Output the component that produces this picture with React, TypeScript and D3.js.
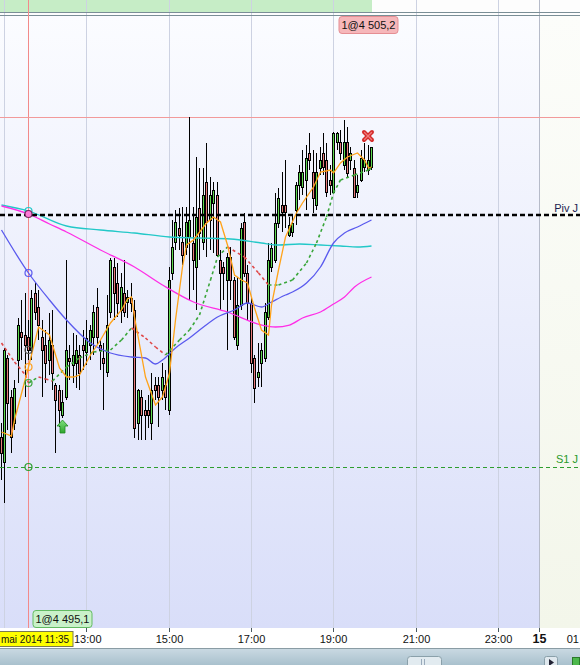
import React from "react";
import * as d3 from "d3";

const W = 580;
const H = 665;

// ---- candle data (5-minute bars starting 10:55) ----
const firstCandle = "10:55";
const stepMinutes = 5;

const opens = [4486.3, 4483.8, 4494.2, 4490.3, 4487.7, 4494.0, 4496.8, 4496.5, 4496.3, 4495.0,
  4500.7, 4499.3, 4496.3, 4495.5, 4494.0, 4495.5, 4491.5, 4491.0, 4488.5, 4490.3,
  4494.2, 4493.5, 4493.7, 4494.5, 4495.5, 4494.8, 4495.5, 4496.3, 4499.3, 4495.5,
  4494.2, 4492.8, 4498.8, 4503.3, 4501.7, 4499.0, 4500.7, 4499.8, 4500.2, 4499.0,
  4487.7, 4490.3, 4489.0, 4489.0, 4487.7, 4491.5, 4491.5, 4491.0, 4491.5, 4489.0,
  4502.7, 4505.8, 4507.2, 4505.8, 4505.3, 4506.3, 4505.7, 4503.3, 4509.2, 4505.8,
  4511.8, 4508.0, 4509.7, 4510.5, 4504.0, 4503.3, 4502.0, 4504.3, 4502.0, 4495.5,
  4499.5, 4507.8, 4502.7, 4499.7, 4494.2, 4492.3, 4493.7, 4494.2, 4498.3, 4503.3,
  4504.0, 4507.7, 4509.5, 4509.5, 4506.5, 4506.8, 4509.0, 4511.5, 4511.3, 4512.0,
  4514.7, 4512.8, 4509.5, 4513.2, 4514.7, 4514.0, 4512.0, 4510.8, 4515.8, 4515.8,
  4513.5, 4515.8, 4514.0, 4513.2, 4510.8, 4512.0, 4513.3, 4513.0, 4513.3];
const highs = [4487.7, 4495.2, 4494.5, 4491.0, 4492.0, 4498.2, 4500.0, 4500.7, 4498.0, 4501.0,
  4501.7, 4501.0, 4498.0, 4497.0, 4498.7, 4499.0, 4491.7, 4491.5, 4491.0, 4504.0,
  4495.5, 4496.7, 4496.5, 4495.5, 4497.0, 4498.0, 4497.5, 4499.5, 4501.2, 4496.0,
  4495.7, 4500.5, 4504.2, 4504.2, 4503.7, 4502.7, 4504.0, 4501.0, 4501.7, 4500.0,
  4491.1, 4491.0, 4490.0, 4490.5, 4492.7, 4492.3, 4492.3, 4493.7, 4493.0, 4503.3,
  4508.0, 4509.0, 4509.2, 4509.3, 4509.3, 4518.3, 4509.3, 4514.3, 4513.2, 4513.2,
  4515.7, 4512.3, 4511.8, 4511.8, 4505.0, 4503.8, 4504.7, 4505.3, 4502.3, 4502.3,
  4507.7, 4508.7, 4503.5, 4500.3, 4494.5, 4495.7, 4495.7, 4499.7, 4505.7, 4505.7,
  4510.7, 4511.2, 4512.8, 4514.0, 4508.3, 4508.5, 4511.8, 4513.5, 4515.0, 4515.5,
  4516.7, 4515.0, 4514.7, 4515.3, 4516.7, 4515.7, 4513.5, 4516.8, 4516.8, 4517.0,
  4518.0, 4517.3, 4515.3, 4514.0, 4512.5, 4515.0, 4515.7, 4515.5, 4515.3];
const lows = [4482.0, 4479.7, 4487.0, 4484.7, 4487.0, 4491.7, 4494.0, 4490.3, 4494.0, 4494.0,
  4498.0, 4496.0, 4490.3, 4491.7, 4492.5, 4491.0, 4484.7, 4487.3, 4488.2, 4490.0,
  4492.0, 4491.7, 4491.2, 4491.0, 4493.0, 4493.5, 4494.0, 4494.5, 4495.5, 4493.0,
  4489.0, 4492.3, 4498.2, 4498.0, 4498.3, 4497.7, 4498.3, 4498.2, 4498.8, 4486.2,
  4486.0, 4486.0, 4486.0, 4487.2, 4486.0, 4490.0, 4487.3, 4490.0, 4489.0, 4488.5,
  4502.0, 4505.0, 4505.0, 4503.5, 4504.5, 4500.0, 4501.0, 4499.0, 4504.0, 4505.0,
  4504.3, 4505.0, 4504.7, 4504.3, 4499.0, 4500.0, 4495.0, 4500.0, 4496.0, 4495.0,
  4499.0, 4502.3, 4498.0, 4492.7, 4489.7, 4491.3, 4491.3, 4493.8, 4498.0, 4502.8,
  4503.7, 4507.2, 4506.8, 4507.2, 4506.3, 4506.3, 4507.5, 4510.0, 4510.5, 4509.0,
  4513.0, 4508.7, 4509.0, 4512.5, 4512.5, 4510.3, 4510.5, 4510.7, 4515.0, 4514.0,
  4513.0, 4512.2, 4513.0, 4510.2, 4510.2, 4511.8, 4512.8, 4512.5, 4513.0];
const closes = [4484.7, 4495.0, 4489.7, 4486.3, 4491.2, 4497.5, 4496.3, 4495.5, 4495.0, 4500.2,
  4498.8, 4497.5, 4495.0, 4493.7, 4496.0, 4492.7, 4490.0, 4489.0, 4489.8, 4495.0,
  4493.9, 4494.5, 4495.0, 4492.7, 4495.0, 4496.2, 4497.0, 4498.8, 4496.3, 4495.0,
  4493.7, 4497.5, 4504.0, 4500.7, 4499.7, 4501.3, 4498.8, 4500.3, 4499.7, 4487.2,
  4491.0, 4488.5, 4488.5, 4488.5, 4491.0, 4491.0, 4490.3, 4492.3, 4490.3, 4502.0,
  4505.3, 4507.8, 4506.5, 4504.5, 4507.8, 4508.0, 4504.0, 4508.3, 4506.7, 4510.5,
  4507.8, 4510.5, 4511.0, 4504.5, 4502.7, 4502.7, 4504.3, 4502.0, 4496.3, 4499.5,
  4507.2, 4502.7, 4499.7, 4493.7, 4491.2, 4492.8, 4495.0, 4498.8, 4504.0, 4505.2,
  4507.7, 4510.2, 4508.8, 4508.8, 4507.5, 4507.7, 4511.5, 4512.8, 4512.8, 4514.2,
  4514.0, 4510.2, 4512.8, 4514.0, 4513.3, 4510.8, 4511.5, 4516.7, 4516.7, 4514.7,
  4515.8, 4512.7, 4514.7, 4510.3, 4511.5, 4514.2, 4514.0, 4514.0, 4515.3];

// ---- indicator lines (candle index, price) ----
const cyanIdx = [0, 8, 19, 29, 39, 49, 58, 67, 76, 81, 87, 93, 99, 104, 108];
const cyanVal = [4509.5, 4508.9, 4507.4, 4507.0, 4506.7, 4506.3, 4506.2, 4506.1, 4505.7, 4505.5, 4505.6, 4505.5, 4505.4, 4505.3, 4505.4];

const magentaIdx = [0, 8, 14, 19, 29, 39, 47, 56, 66, 76, 80, 84, 88, 93, 97, 100, 103, 108];
const magentaVal = [4509.4, 4508.6, 4507.6, 4506.8, 4505.0, 4503.3, 4501.5, 4499.8, 4498.8, 4497.5, 4497.3, 4497.5, 4498.2, 4498.8, 4499.6, 4500.3, 4501.3, 4502.3];

const blueIdx = [0, 8, 14, 19, 26, 32, 38, 42, 45, 47, 51, 55, 59, 63, 68, 72, 76, 79, 83, 85, 89, 93, 97, 100, 104, 108];
const blueVal = [4507.0, 4502.7, 4500.0, 4498.0, 4495.7, 4494.7, 4494.3, 4494.2, 4493.6, 4494.0, 4495.2, 4496.2, 4497.3, 4498.3, 4499.0, 4499.7, 4499.3, 4499.8, 4500.5, 4500.8, 4501.7, 4503.3, 4505.7, 4506.7, 4507.3, 4508.0];

const orangeIdx = [0, 3, 4, 8, 11, 14, 17, 19, 21, 23, 26, 29, 32, 35, 37, 38, 39, 42, 45, 47,
  49, 51, 53, 54, 56, 60, 62, 64, 66, 68, 70, 72, 74, 76, 78, 79, 81, 83, 86, 88,
  91, 93, 96, 97, 99, 101, 104, 106, 107, 108];
const orangeVal = [4486.8, 4486.4, 4488.0, 4493.3, 4497.3, 4496.5, 4493.2, 4492.3, 4492.3, 4492.5,
  4494.5, 4496.0, 4497.7, 4499.0, 4500.1, 4500.3, 4498.3, 4492.3, 4489.5, 4490.3,
  4492.7, 4498.0, 4503.3, 4505.5, 4506.0, 4507.7, 4508.3, 4507.8, 4505.5, 4502.5,
  4502.0, 4501.7, 4499.2, 4497.0, 4496.5, 4499.5, 4503.0, 4506.3, 4508.7, 4509.7,
  4511.3, 4512.8, 4513.0, 4512.7, 4513.7, 4514.3, 4514.7, 4514.0, 4513.2, 4513.3];

const trendIdx = [0, 4, 7, 8, 11, 13, 15, 19, 23, 27, 32, 35, 38, 42, 45, 48, 52, 55, 58, 61,
  63, 66, 71, 75, 78, 81, 85, 89, 92, 95, 97, 99, 103, 107, 108];
const trendVal = [4495.7, 4493.8, 4492.5, 4491.7, 4492.3, 4492.1, 4491.9, 4493.3, 4494.2, 4494.8,
  4495.0, 4496.0, 4497.2, 4496.2, 4495.3, 4494.5, 4496.0, 4497.0, 4498.5, 4502.0,
  4504.3, 4505.3, 4504.3, 4502.7, 4501.5, 4501.5, 4502.0, 4503.7, 4505.7, 4508.3,
  4510.7, 4512.0, 4512.5, 4513.0, 4513.2];

// ---- levels, trades, labels ----
const pivotLevel = 4508.5;
const pivotLabel = "Piv J";
const s1Level = 4483.3;
const s1Label = "S1 J";
const dayHigh = 4518.3;

const cursorTime = "11:35";
const dateLabel = "mai 2014 11:35";
const buyIdx = 18;
const buyLabel = "1@4 495,1";
const sellIdx = 107;
const sellLabel = "1@4 505,2";

const gridHours = [11, 13, 15, 17, 19, 21, 23];
const dayBreakHour = 24;
const tickHours = [13, 15, 17, 19, 21, 23, 24, 25];
const tickLabels = ["13:00", "15:00", "17:00", "19:00", "21:00", "23:00", "15", "01"];

const FONT = "Liberation Sans, Arial, sans-serif";

const toMin = (s: string) => {
  const [h, m] = s.split(":").map(Number);
  return h * 60 + m;
};

export default function App() {
  const plotTop = 16;
  const plotBottom = 628;
  const x = d3.scaleLinear().domain([13 * 60, 24 * 60]).range([86.3, 539]);
  const y = d3.scaleLinear().domain([4530, 4460]).range([0, 700]);
  const t0 = toMin(firstCandle);
  const xi = (i: number) => Math.round(x(t0 + i * stepMinutes)) + 0.5;
  const crisp = (v: number) => Math.round(v) + 0.5;

  const lineGen = (curve: any) =>
    d3.line<[number, number]>().x((d) => xi(d[0])).y((d) => y(d[1])).curve(curve);
  const zipS = (a: number[], b: number[]) => a.map((v, k) => [v, b[k]] as [number, number]);

  const cyanPath = lineGen(d3.curveMonotoneX)(zipS(cyanIdx, cyanVal)) || "";
  const magPath = lineGen(d3.curveMonotoneX)(zipS(magentaIdx, magentaVal)) || "";
  const bluePath = lineGen(d3.curveMonotoneX)(zipS(blueIdx, blueVal)) || "";
  const orangePath = lineGen(d3.curveLinear)(zipS(orangeIdx, orangeVal)) || "";

  const trendPts = zipS(trendIdx, trendVal);
  const trendSegs = trendPts.slice(0, -1).map((p, k) => {
    const q = trendPts[k + 1];
    return { d: lineGen(d3.curveLinear)([p, q]) || "", up: q[1] >= p[1] };
  });

  const interp = (idx: number[], val: number[]) => d3.scaleLinear().domain(idx).range(val);
  const cursorIdx = (toMin(cursorTime) - t0) / stepMinutes;
  const cursorX = xi(cursorIdx);

  const markers = [
    { v: interp(cyanIdx, cyanVal)(cursorIdx), stroke: "#22c8c8", fill: "none" },
    { v: interp(magentaIdx, magentaVal)(cursorIdx), stroke: "#7a2a60", fill: "#ff7ad8" },
    { v: interp(blueIdx, blueVal)(cursorIdx), stroke: "#5a5aee", fill: "none" },
    { v: closes[cursorIdx], stroke: "#555", fill: "none" },
    { v: interp(orangeIdx, orangeVal)(cursorIdx), stroke: "#ff9f1a", fill: "none" },
    { v: interp(trendIdx, trendVal)(cursorIdx), stroke: "#3aa63a", fill: "none" },
    { v: s1Level, stroke: "#2e9e2e", fill: "none" },
  ];

  const gridX = gridHours.map((h) => crisp(x(h * 60)));
  const dayX = crisp(x(dayBreakHour * 60));

  const bx = xi(buyIdx);
  const by = y(lows[buyIdx]) + 2;
  const arrowPath = `M${bx},${by} L${bx + 5.5},${by + 6} L${bx + 2.5},${by + 6} L${bx + 2.5},${by + 13} L${bx - 2.5},${by + 13} L${bx - 2.5},${by + 6} L${bx - 5.5},${by + 6} Z`;

  const sx = xi(sellIdx) - 0.5;
  const sy = y(highs[sellIdx]) - 9;

  return (
    <div style={{ position: "absolute", left: 0, top: 0, width: W, height: H }}>
      <svg width={W} height={H} style={{ display: "block" }} fontFamily={FONT}>
        <defs>
          <linearGradient id="bg" x1="0" y1="0" x2="0" y2="1">
            <stop offset="0%" stopColor="#fbfcff" />
            <stop offset="100%" stopColor="#d9def9" />
          </linearGradient>
          <linearGradient id="bgr" x1="0" y1="0" x2="0" y2="1">
            <stop offset="0%" stopColor="#fcfdfa" />
            <stop offset="100%" stopColor="#f3f6ea" />
          </linearGradient>
          <linearGradient id="scroll" x1="0" y1="0" x2="0" y2="1">
            <stop offset="0%" stopColor="#c9d9e2" />
            <stop offset="100%" stopColor="#a9c1cd" />
          </linearGradient>
          <linearGradient id="arrowG" x1="0" y1="0" x2="0" y2="1">
            <stop offset="0%" stopColor="#7ee07e" />
            <stop offset="100%" stopColor="#2ea52e" />
          </linearGradient>
          <clipPath id="plot">
            <rect x={0} y={plotTop} width={W} height={plotBottom - plotTop} />
          </clipPath>
        </defs>

        {/* top band */}
        <rect x={0} y={0} width={W} height={plotTop} fill="#fdfdfd" />
        <rect x={0} y={0} width={372} height={12} fill="#c6edc6" />

        {/* plot backgrounds */}
        <rect x={0} y={plotTop} width={dayX} height={plotBottom - plotTop} fill="url(#bg)" />
        <rect x={dayX} y={plotTop} width={W - dayX} height={plotBottom - plotTop} fill="url(#bgr)" />

        {/* grid */}
        {gridX.map((gx, k) => (
          <line key={k} x1={gx} x2={gx} y1={0} y2={plotBottom} stroke="#cdd2e2" strokeWidth={1} />
        ))}
        <line x1={dayX} x2={dayX} y1={0} y2={plotBottom} stroke="#b6bbc9" strokeWidth={1} />

        {/* double separator */}
        <line x1={0} x2={W} y1={12.5} y2={12.5} stroke="#7a8e96" />
        <line x1={0} x2={W} y1={15.5} y2={15.5} stroke="#7a8e96" />

        {/* cursor */}
        <line x1={cursorX} x2={cursorX} y1={0} y2={plotBottom} stroke="#f28a8a" strokeWidth={1} />

        <g clipPath="url(#plot)">
          {/* day high line */}
          <line x1={0} x2={W} y1={crisp(y(dayHigh))} y2={crisp(y(dayHigh))} stroke="#f29a9a" strokeWidth={1} />

          {/* candles */}
          {opens.map((o, i) => {
            const c = closes[i];
            const cxp = xi(i);
            const top = Math.round(y(Math.max(o, c))) + 0.5;
            const bot = Math.max(top + 1, Math.round(y(Math.min(o, c))) + 0.5);
            const up = c >= o;
            return (
              <g key={i}>
                <line x1={cxp} x2={cxp} y1={Math.round(y(highs[i]))} y2={Math.round(y(lows[i]))} stroke="#000" strokeWidth={1} />
                <rect x={cxp - 1} y={top} width={2} height={bot - top} fill={up ? "#5ed94f" : "#e87a7a"} stroke="#000" strokeWidth={1} />
              </g>
            );
          })}

          {/* moving averages */}
          <path d={cyanPath} fill="none" stroke="#22c8c8" strokeWidth={1.3} />
          <path d={magPath} fill="none" stroke="#ff2ee6" strokeWidth={1.3} />
          <path d={bluePath} fill="none" stroke="#5a5aee" strokeWidth={1.3} />
          {trendSegs.map((s, k) => (
            <path key={k} d={s.d} fill="none" stroke={s.up ? "#3aa63a" : "#e04848"} strokeWidth={1.6} strokeDasharray="3,3" />
          ))}
          <path d={orangePath} fill="none" stroke="#ffa31a" strokeWidth={1.3} />

          {/* pivot & S1 */}
          <line x1={0} x2={W} y1={y(pivotLevel)} y2={y(pivotLevel)} stroke="#000" strokeWidth={2.6} strokeDasharray="5,3" />
          <line x1={0} x2={W} y1={crisp(y(s1Level))} y2={crisp(y(s1Level))} stroke="#2e9e2e" strokeWidth={1} strokeDasharray="4,3" />

          {/* cursor markers */}
          {markers.map((m, k) => (
            <circle key={k} cx={cursorX} cy={y(m.v)} r={3.5} fill={m.fill} stroke={m.stroke} strokeWidth={1.2} />
          ))}

          {/* buy arrow */}
          <path d={arrowPath} fill="url(#arrowG)" stroke="#1f8a1f" strokeWidth={0.8} />
          {/* sell cross */}
          <g strokeLinecap="round">
            <line x1={sx - 4} y1={sy - 4} x2={sx + 4} y2={sy + 4} stroke="#d42a2a" strokeWidth={4} />
            <line x1={sx - 4} y1={sy + 4} x2={sx + 4} y2={sy - 4} stroke="#d42a2a" strokeWidth={4} />
            <line x1={sx - 3.5} y1={sy - 3.5} x2={sx + 3.5} y2={sy + 3.5} stroke="#f07a7a" strokeWidth={1.4} />
            <line x1={sx - 3.5} y1={sy + 3.5} x2={sx + 3.5} y2={sy - 3.5} stroke="#f07a7a" strokeWidth={1.4} />
          </g>
        </g>

        {/* level labels */}
        <text x={W - 2} y={y(pivotLevel) - 3} fontSize={11} textAnchor="end" fill="#1c1c50">{pivotLabel}</text>
        <text x={W - 2} y={y(s1Level) - 4} fontSize={11} textAnchor="end" fill="#2a9a2a">{s1Label}</text>

        {/* trade labels */}
        <rect x={xi(sellIdx) - 29.5} y={16.5} width={59} height={17} rx={3} fill="#f6b7ba" stroke="#e58e93" />
        <text x={xi(sellIdx)} y={29} fontSize={11} textAnchor="middle" fill="#111">{sellLabel}</text>
        <rect x={xi(buyIdx) - 29.5} y={610.5} width={59} height={17} rx={3} fill="#c9f1c9" stroke="#62bb62" />
        <text x={xi(buyIdx)} y={623} fontSize={11} textAnchor="middle" fill="#111">{buyLabel}</text>

        {/* x axis */}
        <rect x={0} y={plotBottom} width={W} height={20} fill="#ffffff" />
        {tickHours.map((h, k) => {
          const tx = crisp(x(h * 60));
          const last = k === tickHours.length - 1;
          const bold = tickLabels[k] === "15";
          const first = k === 0;
          return (
            <g key={k}>
              {!last && <line x1={tx} x2={tx} y1={plotBottom} y2={plotBottom + 4} stroke="#4a5a62" />}
              <text
                x={last ? W - 1 : first ? 74 : tx}
                y={643}
                fontSize={bold ? 12.5 : 11}
                fontWeight={bold ? "bold" : "normal"}
                textAnchor={last ? "end" : first ? "start" : "middle"}
                fill="#111"
              >
                {tickLabels[k]}
              </text>
            </g>
          );
        })}
        <rect x={-20} y={631.5} width={93} height={15} fill="#ffff00" stroke="#7a7a50" />
        <text x={1} y={643} fontSize={10.5} textLength={68} lengthAdjust="spacingAndGlyphs" fill="#111">{dateLabel}</text>

        {/* scroll bar */}
        <line x1={0} x2={W} y1={648.5} y2={648.5} stroke="#8a9ca4" />
        <rect x={0} y={649} width={W} height={16} fill="url(#scroll)" />
        <rect x={407.5} y={656.5} width={34} height={12} rx={3} fill="#e2ebf0" stroke="#8aa0aa" />
        <line x1={421.5} x2={421.5} y1={659} y2={665} stroke="#9ab" />
        <line x1={424.5} x2={424.5} y1={659} y2={665} stroke="#9ab" />
        <rect x={544.5} y={656.5} width={13} height={12} rx={2} fill="#dfe8ee" stroke="#8aa0aa" />
        <path d="M549,659 L554,662.5 L549,666 Z" fill="#223" />
        <rect x={572.5} y={657.5} width={7} height={8} fill="#4cb84c" stroke="#2a7a2a" />
      </svg>
    </div>
  );
}
